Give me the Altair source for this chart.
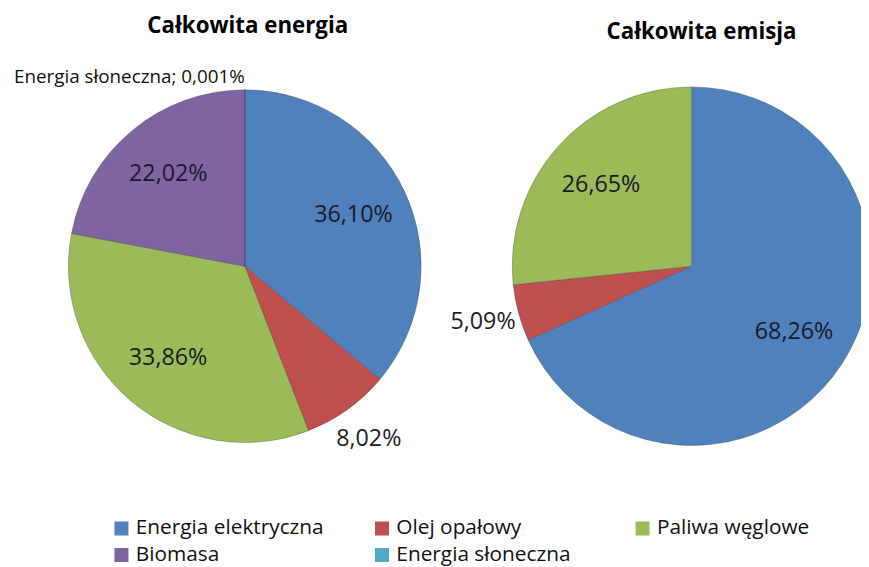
import altair as alt
import pandas as pd

categories = ["Energia elektryczna", "Olej opałowy", "Paliwa węglowe", "Biomasa", "Energia słoneczna"]
colors = ["#4F81BD", "#C0504D", "#9BBB59", "#8064A2", "#4BACC6"]
energia_values = [36.10, 8.02, 33.86, 22.02, 0.001]
emisja_categories = ["Energia elektryczna", "Olej opałowy", "Paliwa węglowe"]
emisja_values = [68.26, 5.09, 26.65]
titles = ["Całkowita energia", "Całkowita emisja"]

FONT = "Open Sans"


def pct(v):
    s = f"{v:.3f}" if v < 0.01 else f"{v:.2f}"
    return s.replace(".", ",") + "%"


def frame(cats, vals):
    rows = []
    for i, (c, v) in enumerate(zip(cats, vals)):
        rows.append({
            "cat": c, "value": v, "idx": i,
            "inner": pct(v) if v >= 10 else "",
            "outer": pct(v) if 1 <= v < 10 else "",
            "named": f"{c}; {pct(v)}" if v < 1 else "",
        })
    return pd.DataFrame(rows)


color_scale = alt.Scale(domain=categories, range=colors)
legend = alt.Legend(
    orient="none", legendX=104, legendY=512, columns=3, direction="horizontal",
    gridAlign="all",
    title=None, labelFontSize=21, labelFont=FONT, labelColor="#111", labelLimit=400,
    symbolType="square", symbolSize=200, symbolStrokeWidth=0,
    columnPadding=48, rowPadding=5, labelOffset=4,
)


def pie(df, cx, cy, r, title, tx, ty):
    base = alt.Chart(df).encode(
        theta=alt.Theta("value:Q", stack=True),
        order=alt.Order("idx:Q"),
        x=alt.value(cx),
        y=alt.value(cy),
    )
    arc = base.mark_arc(radius=r, stroke="#333", strokeWidth=0.6, strokeOpacity=0.5).encode(
        color=alt.Color("cat:N", scale=color_scale, legend=legend, sort=categories)
    )
    inner = base.mark_text(radius=r * 0.68, fontSize=23.5, font=FONT, color="#1a1a2a").encode(
        text="inner:N"
    )
    outer = base.mark_text(radius=r + 37, fontSize=23.5, font=FONT, color="#222").encode(
        text="outer:N"
    )
    named = base.mark_text(radius=r + 13, fontSize=19, font=FONT, color="#111",
                           align="right", baseline="middle").encode(text="named:N")
    ttl = alt.Chart(pd.DataFrame({"t": [title]})).mark_text(
        fontSize=22.5, font=FONT, fontWeight="bold", color="#000"
    ).encode(text="t:N", x=alt.value(tx), y=alt.value(ty))
    return [arc, inner, outer, named, ttl]


left = pie(frame(categories, energia_values), 239, 258, 178, titles[0], 242, 16)
right = pie(frame(emisja_categories, emisja_values), 690, 258, 181, titles[1], 700, 22)

chart = alt.layer(*left, *right).properties(
    width=861, height=559, autosize="none", padding=0
).configure_view(stroke=None)

chart.save("out.html", embed_options={"renderer": "svg", "actions": False})
